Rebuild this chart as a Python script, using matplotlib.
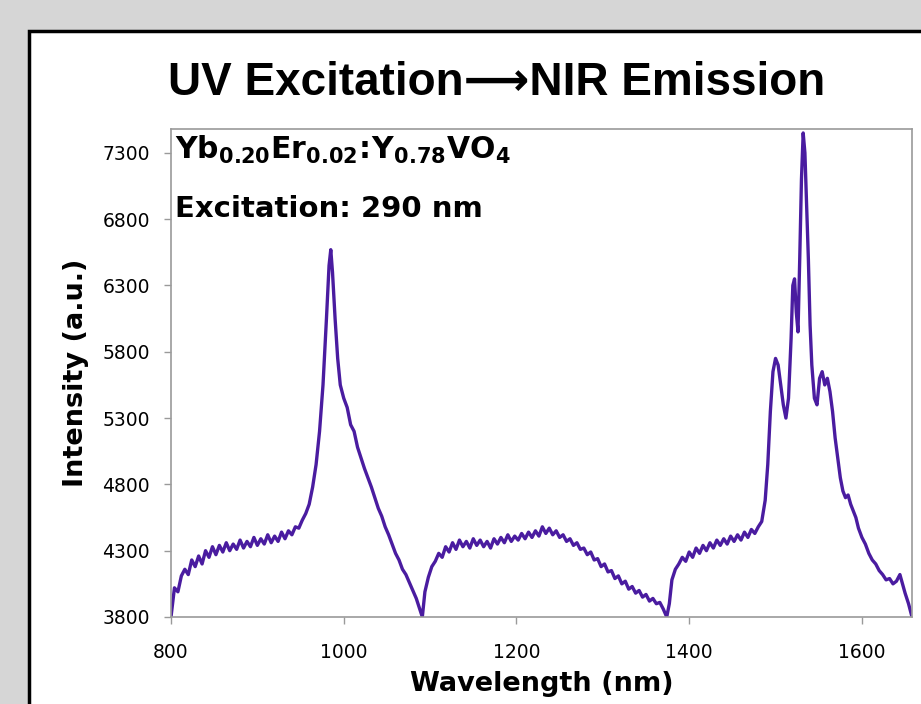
import matplotlib
matplotlib.use("Agg")
import matplotlib.pyplot as plt
from matplotlib.patches import Rectangle
import numpy as np

wavelength = [
    800, 804, 808, 812, 816, 820, 824, 828, 832, 836, 840, 844, 848, 852, 856, 860,
    864, 868, 872, 876, 880, 884, 888, 892, 896, 900, 904, 908, 912, 916, 920, 924,
    928, 932, 936, 940, 944, 948, 952, 956, 960, 964, 968, 972, 976, 980, 983, 985,
    987, 990, 993, 996, 1000, 1004, 1008, 1012, 1016, 1020, 1024, 1028, 1032, 1036,
    1040, 1044, 1048, 1052, 1056, 1060, 1064, 1068, 1072, 1076, 1080, 1084, 1088, 1091,
    1094, 1098, 1102, 1106, 1110, 1114, 1118, 1122, 1126, 1130, 1134, 1138, 1142, 1146,
    1150, 1154, 1158, 1162, 1166, 1170, 1174, 1178, 1182, 1186, 1190, 1194, 1198, 1202,
    1206, 1210, 1214, 1218, 1222, 1226, 1230, 1234, 1238, 1242, 1246, 1250, 1254, 1258,
    1262, 1266, 1270, 1274, 1278, 1282, 1286, 1290, 1294, 1298, 1302, 1306, 1310, 1314,
    1318, 1322, 1326, 1330, 1334, 1338, 1342, 1346, 1350, 1354, 1358, 1362, 1366, 1370,
    1374, 1377, 1380, 1384, 1388, 1392, 1396, 1400, 1404, 1408, 1412, 1416, 1420, 1424,
    1428, 1432, 1436, 1440, 1444, 1448, 1452, 1456, 1460, 1464, 1468, 1472, 1476, 1480,
    1484, 1488, 1491, 1494, 1497, 1500, 1503, 1506, 1509, 1512, 1515, 1518, 1520, 1522,
    1524, 1526, 1528, 1530, 1532, 1534, 1536, 1538, 1540, 1542, 1545, 1548, 1551, 1554,
    1557, 1560, 1563, 1566, 1569, 1572, 1575, 1578, 1581, 1584, 1587, 1590, 1593, 1596,
    1600, 1604, 1608, 1612, 1616, 1620, 1624, 1628, 1632, 1636, 1640, 1644, 1647, 1650,
    1654, 1658,
]

intensity = [
    3800, 4020, 3990, 4110, 4160, 4120, 4230, 4180, 4260, 4200, 4300, 4250, 4330, 4270, 4340, 4290,
    4360, 4300, 4350, 4310, 4380, 4320, 4370, 4330, 4400, 4340, 4390, 4350, 4420, 4360, 4410, 4370,
    4440, 4390, 4450, 4420, 4480, 4470, 4530, 4580, 4650, 4780, 4950, 5200, 5550, 6050, 6450, 6570,
    6400, 6050, 5750, 5550, 5450, 5380, 5250, 5200, 5080, 5000, 4920, 4850, 4780, 4700,
    4620, 4560, 4480, 4420, 4350, 4280, 4230, 4160, 4120, 4060, 4000, 3940, 3860, 3800,
    3990, 4100, 4180, 4220, 4280, 4250, 4330, 4290, 4360, 4310, 4380, 4330, 4370, 4320,
    4390, 4340, 4380, 4330, 4370, 4320, 4390, 4350, 4400, 4360, 4420, 4370, 4410, 4380,
    4430, 4390, 4440, 4400, 4450, 4410, 4480, 4430, 4470, 4420, 4450, 4400, 4420, 4370,
    4390, 4340, 4360, 4310, 4320, 4270, 4290, 4230, 4240, 4180, 4200, 4140, 4150, 4090,
    4110, 4050, 4070, 4010, 4030, 3980, 4000, 3950, 3970, 3920, 3940, 3900, 3910, 3860,
    3800, 3900, 4080, 4160, 4200, 4250, 4220, 4290, 4250, 4320, 4280, 4340, 4300, 4360,
    4320, 4380, 4340, 4390, 4350, 4410, 4370, 4420, 4380, 4440, 4400, 4460, 4430, 4480,
    4520, 4680, 4950, 5350, 5650, 5750, 5700, 5550, 5400, 5300, 5450, 5900, 6300, 6350,
    6100, 5950, 6500, 7100, 7450, 7300, 6900, 6500, 6000, 5700, 5450, 5400, 5600, 5650,
    5550, 5600, 5500, 5350, 5150, 5000, 4850, 4750, 4700, 4720, 4650, 4600, 4550, 4470,
    4400, 4350, 4280, 4230, 4200, 4150, 4120, 4080, 4090, 4050, 4070, 4120, 4050, 3980,
    3900, 3800,
]

x_ticks = [800, 1000, 1200, 1400, 1600]
y_ticks = [3800, 4300, 4800, 5300, 5800, 6300, 6800, 7300]

title_text = "UV Excitation\u27f6NIR Emission"
sample_text = r"$\mathbf{Yb_{0.20}Er_{0.02}\!:\!Y_{0.78}VO_4}$"
excitation_text = "Excitation: 290 nm"
x_label = "Wavelength (nm)"
y_label = "Intensity (a.u.)"

plt.rcParams["mathtext.fontset"] = "dejavusans"

fig = plt.figure(figsize=(9.21, 7.04), dpi=100)
fig.patch.set_facecolor("#d6d6d6")

panel = Rectangle((29 / 921, -0.1), 1.2, (704 - 31) / 704 + 0.1,
                  transform=fig.transFigure, facecolor="white",
                  edgecolor="black", linewidth=2.5, zorder=-10)
fig.patches.append(panel)

fig.text(0.539, 0.882, title_text, ha="center", va="center",
         fontsize=33, fontweight="bold",
         family=["Liberation Sans", "DejaVu Sans"])

ax = fig.add_axes([171 / 921, (704 - 617) / 704, (912 - 171) / 921, (617 - 129) / 704])
ax.set_zorder(5)
ax.set_facecolor("white")
ax.plot(wavelength, intensity, color="#4a1ca0", linewidth=2.4, solid_joinstyle="round")

ax.set_xlim(800, 1658)
ax.set_ylim(3800, 7480)
ax.set_xticks(x_ticks)
ax.set_yticks(y_ticks)
for s in ax.spines.values():
    s.set_color("#9a9a9a")
    s.set_linewidth(1.2)
ax.tick_params(axis="both", colors="#9a9a9a", labelcolor="black",
               labelsize=13.5, length=5, width=1, direction="out")
ax.tick_params(axis="y", pad=10)
ax.tick_params(axis="x", pad=14)

ax.set_xlabel(x_label, fontsize=19.5, fontweight="bold", labelpad=6)
ax.set_ylabel(y_label, fontsize=19.5, fontweight="bold", labelpad=10)

ax.text(0.005, 0.99, sample_text, transform=ax.transAxes, ha="left", va="top",
        fontsize=21.5)
ax.text(0.005, 0.865, excitation_text, transform=ax.transAxes, ha="left", va="top",
        fontsize=21, fontweight="bold")

fig.savefig("out.png", dpi=100, facecolor=fig.get_facecolor())
